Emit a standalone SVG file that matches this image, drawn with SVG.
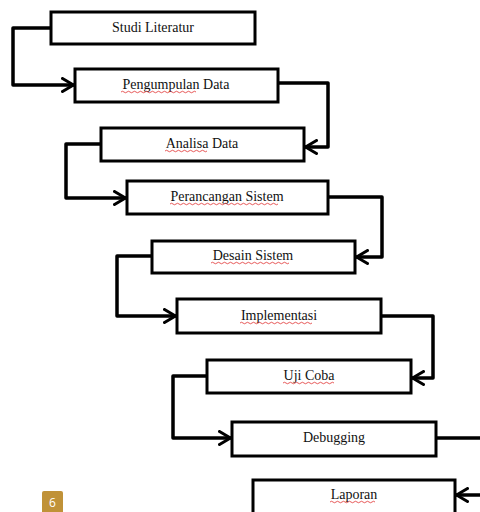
<svg xmlns="http://www.w3.org/2000/svg" width="480" height="512" viewBox="0 0 480 512">
<style>
.box{fill:#fff;stroke:#000;stroke-width:3}
.lbl{font-family:"Liberation Serif","Times New Roman",serif;font-size:14px;fill:#111;text-anchor:middle}
.con{fill:none;stroke:#000;stroke-width:3.5;stroke-linejoin:round}
.sp{fill:none;stroke:#e03030;stroke-width:0.8}
</style>
<defs>
<marker id="ah" viewBox="0 0 14 16" refX="13" refY="8" markerWidth="14" markerHeight="16" markerUnits="userSpaceOnUse" orient="auto">
<path d="M1.5,1.5 L12.5,8 L1.5,14.5" fill="none" stroke="#000" stroke-width="3" stroke-linecap="round" stroke-linejoin="round"/>
</marker>
</defs>
<rect width="480" height="512" fill="#fff"/>
<g id="connectors">
<path class="con" marker-end="url(#ah)" d="M51,28 H13 V85 H74"/>
<path class="con" marker-end="url(#ah)" d="M278,83 H328 V147 H305"/>
<path class="con" marker-end="url(#ah)" d="M101,144 H66 V198 H126"/>
<path class="con" marker-end="url(#ah)" d="M328,197 H382 V257 H356"/>
<path class="con" marker-end="url(#ah)" d="M152,256 H117 V316 H176"/>
<path class="con" marker-end="url(#ah)" d="M381,316 H433 V378 H412"/>
<path class="con" marker-end="url(#ah)" d="M207,376 H173 V438 H231"/>
<path class="con" d="M436,438 H482"/>
<path class="con" marker-end="url(#ah)" d="M482,495 H456"/>
</g>
<g id="n1"><rect class="box" x="51" y="12" width="204" height="32"/><text class="lbl" x="153" y="32">Studi Literatur</text></g>
<g id="n2"><rect class="box" x="75" y="69" width="203" height="33"/><text class="lbl" x="176" y="89">Pengumpulan Data</text><path class="sp" d="M121,92 q1.5,-1.5 3,0 t3,0 t3,0 t3,0 t3,0 t3,0 t3,0 t3,0 t3,0 t3,0 t3,0 t3,0 t3,0 t3,0 t3,0 t3,0 t3,0 t3,0 t3,0 t3,0 t3,0 t3,0 t3,0 t3,0 t3,0"/></g>
<g id="n3"><rect class="box" x="101" y="128" width="203" height="33"/><text class="lbl" x="202" y="148">Analisa Data</text><path class="sp" d="M165,151 q1.5,-1.5 3,0 t3,0 t3,0 t3,0 t3,0 t3,0 t3,0 t3,0 t3,0 t3,0 t3,0 t3,0 t3,0 t3,0"/></g>
<g id="n4"><rect class="box" x="127" y="181" width="201" height="33"/><text class="lbl" x="227" y="201">Perancangan Sistem</text><path class="sp" d="M170,204 q1.5,-1.5 3,0 t3,0 t3,0 t3,0 t3,0 t3,0 t3,0 t3,0 t3,0 t3,0 t3,0 t3,0 t3,0 t3,0 t3,0 t3,0 t3,0 t3,0 t3,0 t3,0 t3,0 t3,0 t3,0 t3,0 t3,0 t3,0 t3,0 t3,0 t3,0 t3,0 t3,0 t3,0 t3,0 t3,0 t3,0 t3,0"/></g>
<g id="n5"><rect class="box" x="152" y="241" width="203" height="32"/><text class="lbl" x="253" y="260">Desain Sistem</text><path class="sp" d="M211,263 q1.5,-1.5 3,0 t3,0 t3,0 t3,0 t3,0 t3,0 t3,0 t3,0 t3,0 t3,0 t3,0 t3,0 t3,0 t3,0 t3,0 t3,0 t3,0 t3,0 t3,0 t3,0 t3,0 t3,0 t3,0 t3,0 t3,0 t3,0"/></g>
<g id="n6"><rect class="box" x="177" y="299" width="204" height="34"/><text class="lbl" x="279" y="320">Implementasi</text><path class="sp" d="M240,323 q1.5,-1.5 3,0 t3,0 t3,0 t3,0 t3,0 t3,0 t3,0 t3,0 t3,0 t3,0 t3,0 t3,0 t3,0 t3,0 t3,0 t3,0 t3,0 t3,0 t3,0 t3,0 t3,0 t3,0 t3,0 t3,0"/></g>
<g id="n7"><rect class="box" x="207" y="360" width="204" height="33"/><text class="lbl" x="309" y="380">Uji Coba</text><path class="sp" d="M283,383 q1.5,-1.5 3,0 t3,0 t3,0 t3,0 t3,0 t3,0 t3,0 t3,0 t3,0 t3,0 t3,0 t3,0 t3,0 t3,0 t3,0 t3,0 t3,0"/></g>
<g id="n8"><rect class="box" x="232" y="422" width="204" height="34"/><text class="lbl" x="334" y="442">Debugging</text></g>
<g id="n9"><rect class="box" x="253" y="480" width="202" height="34"/><text class="lbl" x="354" y="499">Laporan</text><path class="sp" d="M330,502 q1.5,-1.5 3,0 t3,0 t3,0 t3,0 t3,0 t3,0 t3,0 t3,0 t3,0 t3,0 t3,0 t3,0 t3,0 t3,0 t3,0"/></g>
<g id="badge"><rect x="42" y="491" width="21" height="24" rx="2" fill="#c09238"/><text x="52.5" y="507" font-family="'Open Sans','Noto Sans',sans-serif" font-size="12" fill="#fff" text-anchor="middle">6</text></g>
</svg>
